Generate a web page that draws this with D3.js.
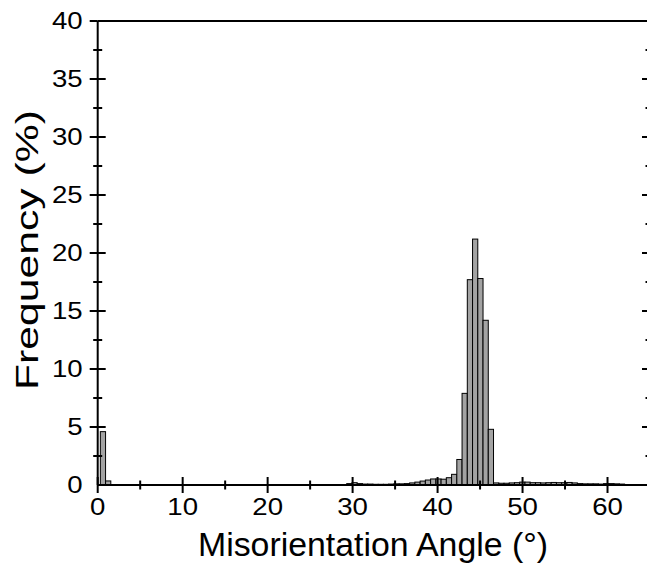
<!DOCTYPE html>
<html><head><meta charset="utf-8">
<script src="https://cdn.jsdelivr.net/npm/d3@7"></script>
<style>body{margin:0;background:#fff}svg{display:block}text{font-family:"Liberation Sans",Arial,sans-serif}</style>
</head><body>
<svg id="c" width="647" height="569"></svg>
<script>
const binWidth = 0.617;
const frequency = [
  4.6, 0.35,
  0,0,0,0,0,0,0,0,0,0, 0,0,0,0,0,0,0,0,0,0, 0,0,0,0,0,0,0,0,0,0, 0,0,0,0,0,0,0,0,0,0, 0,0,0,0,0,
  0.12, 0.2, 0.12, 0.08, 0.08, 0.06, 0.06, 0.06, 0.08, 0.1, 0.1, 0.12, 0.18, 0.25, 0.34,
  0.43, 0.52, 0.52, 0.5, 0.63, 0.92, 2.2, 7.9, 17.7, 21.2, 17.8, 14.2, 4.8,
  0.18, 0.15, 0.15, 0.18, 0.2, 0.25, 0.25, 0.2, 0.2, 0.18, 0.2, 0.22, 0.2, 0.2, 0.22,
  0.18, 0.12, 0.1, 0.1, 0.1, 0.08, 0.12, 0.12, 0.1, 0.08
];
const xMajor = [0,10,20,30,40,50,60];
const xMinor = [5,15,25,35,45,55,65];
const yMajor = [0,5,10,15,20,25,30,35,40];
const yMinor = [2.5,7.5,12.5,17.5,22.5,27.5,32.5,37.5];
const xTitle = "Misorientation Angle (°)";
const yTitle = "Frequency (%)";

const svg = d3.select("#c");
const L = 97.7, R = 650, T = 21, B = 485;
const x = d3.scaleLinear().domain([0,65]).range([L,R]);
const y = d3.scaleLinear().domain([0,40]).range([B,T]);

const bins = frequency.map((v,i)=>({c:(i+1)*binWidth, v}));
svg.append("g").selectAll("rect").data(bins).join("rect")
  .attr("x", d=>x(d.c-binWidth/2))
  .attr("width", d=>x(d.c+binWidth/2)-x(d.c-binWidth/2))
  .attr("y", d=>y(d.v))
  .attr("height", d=>y(0)-y(d.v))
  .attr("fill","#a3a3a3").attr("stroke","#000").attr("stroke-width",1);

const g = svg.append("g").attr("stroke","#000").attr("stroke-width",2);
g.append("line").attr("x1",L).attr("x2",R).attr("y1",B).attr("y2",B);
g.append("line").attr("x1",L).attr("x2",R).attr("y1",T).attr("y2",T);
g.append("line").attr("x1",L).attr("x2",L).attr("y1",T).attr("y2",B);
g.append("line").attr("x1",R).attr("x2",R).attr("y1",T).attr("y2",B);
g.selectAll(".xM").data(xMajor).join("line").attr("x1",d=>x(d)).attr("x2",d=>x(d)).attr("y1",B-8).attr("y2",B+8);
g.selectAll(".xm").data(xMinor).join("line").attr("x1",d=>x(d)).attr("x2",d=>x(d)).attr("y1",B-4.5).attr("y2",B+4.5);
g.selectAll(".yM").data(yMajor.filter(d=>d>0)).join("line").attr("x1",L-8).attr("x2",d=>d===40?L:L+8).attr("y1",d=>y(d)).attr("y2",d=>y(d));
g.selectAll(".ym").data(yMinor).join("line").attr("x1",L-4.5).attr("x2",L+4.5).attr("y1",d=>y(d)).attr("y2",d=>y(d));
g.selectAll(".yR").data(yMajor.filter(d=>d>0&&d<40)).join("line").attr("x1",R-8).attr("x2",R).attr("y1",d=>y(d)).attr("y2",d=>y(d));
g.selectAll(".yr").data(yMinor).join("line").attr("x1",R-4.5).attr("x2",R).attr("y1",d=>y(d)).attr("y2",d=>y(d));

const tf = 23, sx = 1.2;
svg.append("g").selectAll("text").data(xMajor).join("text")
  .attr("transform",d=>`translate(${x(d)},${B+30}) scale(${sx},1)`).attr("text-anchor","middle")
  .attr("font-size",tf).text(d=>d);
svg.append("g").selectAll("text").data(yMajor).join("text")
  .attr("transform",d=>`translate(${L-15},${y(d)+8}) scale(${sx},1)`).attr("text-anchor","end")
  .attr("font-size",tf).text(d=>d);
svg.append("text").attr("x",373).attr("y",556).attr("text-anchor","middle")
  .attr("font-size",34).attr("textLength",350).attr("lengthAdjust","spacingAndGlyphs").text(xTitle);
svg.append("text").attr("transform",`translate(38,250) rotate(-90)`).attr("text-anchor","middle")
  .attr("font-size",31).attr("textLength",280).attr("lengthAdjust","spacingAndGlyphs").text(yTitle);
</script>
</body></html>
